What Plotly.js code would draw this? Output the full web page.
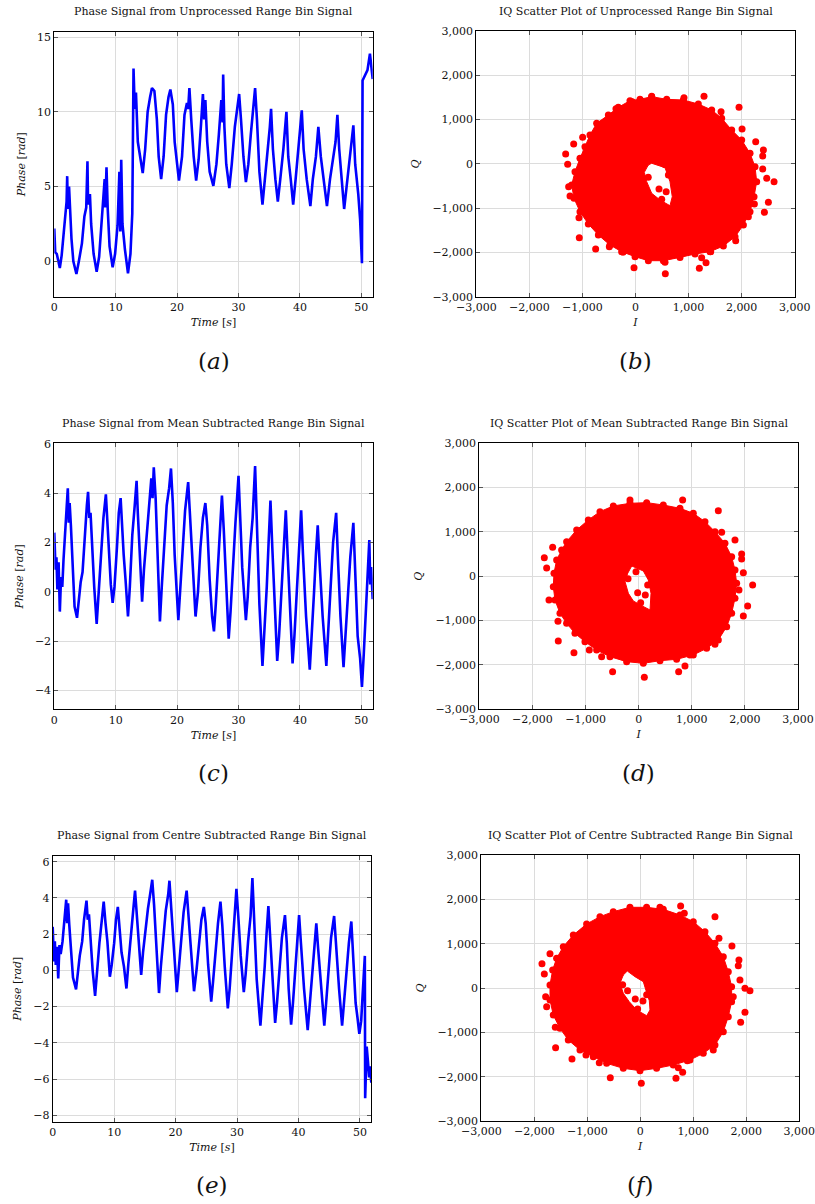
<!DOCTYPE html>
<html>
<head>
<meta charset="utf-8">
<script src="https://cdn.plot.ly/plotly-3.0.1.min.js"></script>
<style>
  html, body { margin: 0; padding: 0; background: #fff; }
  #chart { width: 815px; height: 1204px; }
</style>
</head>
<body>
<div id="chart"></div>
<script>
// ---------- phase signals (time in s, phase in rad) ----------
const aTime  = [0,0.15,0.4,0.6,0.9,1.2,1.5,1.8,2.0,2.1,2.2,2.4,2.6,2.8,3.1,3.6,4.0,4.5,4.9,5.2,5.4,5.5,5.8,6.0,6.4,6.9,7.3,7.7,8.0,8.2,8.3,8.5,8.7,9.0,9.5,9.9,10.3,10.5,10.6,10.75,10.9,11.1,11.5,12.0,12.4,12.7,12.9,13.1,13.3,13.6,14.0,14.4,14.8,15.2,15.6,15.9,16.3,16.7,17.0,17.4,17.8,18.2,18.6,18.9,19.3,19.6,20.3,20.8,21.2,21.6,21.8,22.0,22.3,22.7,23.1,23.5,23.9,24.2,24.4,24.6,24.9,25.3,25.9,26.4,26.8,27.2,27.4,27.5,27.7,28.0,28.5,28.9,29.4,29.8,30.1,30.4,30.8,31.2,31.6,32.0,32.4,32.7,33.0,33.4,33.9,34.3,34.8,35.1,35.3,35.6,36.0,36.4,36.8,37.3,37.8,38.1,38.5,38.9,39.3,39.7,40.0,40.3,40.6,41.1,41.7,42.1,42.6,43.0,43.4,43.9,44.4,44.9,45.5,45.8,46.1,46.4,46.8,47.2,47.6,48.1,48.5,48.7,49.0,49.5,49.8,50.1,50.2,50.6,51.0,51.4,51.7,51.85];
const aPhase = [2.2,0.6,0.5,0.1,-0.45,0.4,1.6,3.2,4.0,5.7,3.5,5.0,3.0,1.5,0.0,-0.85,0.0,1.2,3.0,3.6,6.7,3.8,4.5,2.5,0.5,-0.7,0.3,2.5,3.8,5.5,3.6,6.3,3.5,1.0,-0.4,0.5,2.4,4.5,6.0,2.0,6.8,2.5,0.8,-0.8,0.5,3.2,12.9,10.2,11.3,8.0,7.0,5.9,7.5,10.0,11.0,11.6,11.4,9.5,7.0,5.5,7.0,9.8,11.0,11.5,10.5,8.0,5.4,7.0,9.8,10.6,10.2,11.6,9.5,7.0,5.4,6.8,9.2,11.2,9.5,10.8,8.0,6.0,5.05,6.5,8.5,10.8,9.3,12.5,9.0,6.5,4.9,6.5,9.0,10.5,11.2,9.5,7.0,5.3,6.5,8.5,10.5,11.6,9.5,6.0,3.8,5.5,7.5,9.0,10.2,7.5,5.5,4.0,5.5,7.5,10.0,7.0,5.5,3.8,5.5,7.5,8.5,10.1,7.5,5.5,3.7,5.5,7.0,9.0,7.0,5.2,3.7,5.5,7.3,8.0,9.8,7.5,5.5,3.5,5.0,6.8,8.0,9.1,6.5,4.5,2.8,-0.13,12.1,12.5,12.8,13.9,12.8,12.2];

const cTime  = [0,0.2,0.35,0.5,0.7,0.9,1.1,1.3,1.5,1.8,2.0,2.2,2.35,2.5,2.7,3.0,3.3,3.7,4.0,4.3,4.6,5.0,5.3,5.5,5.7,5.9,6.2,6.5,6.9,7.2,7.6,8.0,8.4,8.6,8.9,9.2,9.5,9.8,10.2,10.5,10.8,11.0,11.3,11.6,12.0,12.3,12.7,13.1,13.4,13.6,13.9,14.3,14.6,15.0,15.4,15.8,16.0,16.2,16.5,16.8,17.2,17.5,17.9,18.3,18.7,19.0,19.3,19.6,20.2,20.5,20.9,21.3,21.8,22.1,22.5,23.0,23.4,23.8,24.2,24.6,24.9,25.3,25.7,26.0,26.3,26.7,27.0,27.3,27.6,28.0,28.4,28.7,29.1,29.5,30.0,30.2,30.6,31.2,31.5,31.9,32.3,32.7,33.0,33.4,33.9,34.2,34.6,34.9,35.2,35.5,35.9,36.3,36.6,37.0,37.4,37.7,38.0,38.4,38.8,39.1,39.5,39.8,40.2,40.5,41.0,41.6,41.9,42.3,42.6,42.9,43.2,43.7,44.3,44.6,45.0,45.4,45.9,46.2,46.6,47.1,47.4,47.8,48.2,48.7,49.0,49.4,49.8,50.1,50.4,50.8,51.1,51.3,51.45,51.6,51.85];
const cPhase = [2.4,0.9,1.4,0.1,1.2,-0.8,0.6,0.2,1.3,2.6,3.3,4.2,2.8,3.6,2.7,1.0,-0.6,-1.05,-0.3,0.4,0.8,2.6,3.5,4.05,3.0,3.2,1.5,0.2,-1.3,-0.2,1.2,3.0,3.95,3.0,1.8,0.3,-0.45,0.2,1.8,3.2,3.8,2.8,1.5,0.5,-1.0,0.2,2.3,3.5,4.5,3.2,1.5,-0.4,0.9,2.2,3.5,4.6,3.8,5.05,3.8,1.8,-1.2,0.2,2.0,3.5,4.2,5.0,3.6,1.5,-1.15,0.0,1.8,3.3,4.45,3.0,1.3,-1.0,0.0,1.8,3.0,3.6,2.7,0.5,-1.0,-1.6,-0.5,1.5,2.8,3.9,2.5,0.0,-1.9,-0.8,1.2,2.8,4.7,3.2,1.0,-1.15,-0.2,1.8,3.0,5.1,2.5,-0.5,-3.0,-1.8,0.2,2.0,3.7,1.8,-0.8,-2.8,-1.8,0.0,2.0,3.3,1.5,-1.0,-2.9,-1.8,0.2,1.5,3.3,1.5,-1.0,-3.15,-2.0,0.0,1.5,2.7,1.2,-1.0,-3.0,-1.8,0.2,2.0,3.2,1.3,-1.0,-3.05,-1.8,0.0,1.4,2.8,0.8,-1.8,-2.7,-3.85,-2.5,-0.5,1.0,2.1,0.3,1.0,-0.3];

const eTime  = [0,0.2,0.35,0.5,0.7,0.9,1.1,1.3,1.6,1.9,2.2,2.35,2.5,2.7,3.0,3.3,3.8,4.1,4.4,4.8,5.1,5.5,5.7,5.9,6.2,6.5,6.9,7.2,7.6,8.0,8.3,8.6,8.9,9.3,9.6,10.0,10.3,10.6,10.9,11.2,11.6,12.0,12.3,12.7,13.1,13.4,13.7,14.0,14.4,14.7,15.1,15.5,15.9,16.2,16.5,16.9,17.3,17.6,18.0,18.4,18.8,19.0,19.3,19.7,20.2,20.5,20.9,21.3,21.8,22.1,22.5,23.0,23.4,23.8,24.2,24.6,24.9,25.3,25.8,26.1,26.5,26.9,27.3,27.6,28.0,28.5,28.8,29.2,29.5,29.9,30.2,30.6,31.1,31.4,31.8,32.2,32.5,32.8,33.2,33.8,34.1,34.5,34.8,35.1,35.4,35.8,36.2,36.5,36.9,37.3,37.8,38.1,38.4,38.8,39.1,39.5,39.8,40.1,40.4,40.9,41.5,41.8,42.2,42.5,42.9,43.2,43.7,44.2,44.5,44.9,45.3,45.8,46.1,46.6,47.1,47.4,47.8,48.2,48.6,48.9,49.3,49.6,49.9,50.2,50.5,50.8,50.85,51.0,51.1,51.3,51.5,51.65,51.85];
const ePhase = [2.4,0.5,1.6,0.3,1.3,-0.45,1.4,0.9,1.6,2.6,3.9,2.6,3.7,2.5,1.2,-0.4,-1.05,0.0,0.8,1.6,2.8,3.85,2.8,3.1,1.2,0.0,-1.4,0.0,1.5,2.8,3.8,2.6,1.6,-0.35,0.3,1.5,2.8,3.5,2.4,1.0,0.2,-1.0,0.3,2.0,3.3,4.4,3.0,1.2,-0.25,1.0,2.4,3.4,4.3,5.0,3.6,1.5,-1.25,0.2,2.0,3.3,4.2,4.95,3.4,1.3,-1.2,0.0,1.8,3.2,4.4,3.0,1.2,-1.15,0.0,1.6,2.8,3.5,2.6,0.3,-1.73,-0.6,1.2,2.6,3.8,2.5,0.2,-2.1,-1.0,1.2,2.6,4.5,3.0,0.8,-1.2,-0.2,1.6,3.0,5.1,2.6,-0.5,-3.05,-1.8,0.2,2.0,3.55,1.8,-0.8,-2.9,-1.8,0.0,1.8,3.05,1.5,-1.0,-3.0,-1.8,0.3,1.8,3.05,1.5,-1.0,-3.3,-2.0,0.0,1.4,2.6,1.2,-1.0,-3.05,-1.8,0.2,1.8,3.0,1.3,-1.0,-3.05,-1.8,0.0,1.5,2.7,0.8,-1.8,-2.6,-3.5,-2.8,-1.0,0.8,-7.05,-5.5,-4.2,-5.0,-5.9,-5.3,-6.2];

// ---------- IQ scatter clouds: outer rim, inner gap, loose samples ----------
const bOuterI = [-732,-512,-324,-104,85,305,588,902,1184,1436,1624,1813,2001,2158,2252,2284,2234,2158,2033,1876,1656,1404,1122,839,525,242,-9,-261,-481,-700,-889,-1046,-1159,-1203,-1140,-1046,-952,-858];
const bOuterQ = [915,1103,1276,1427,1457,1517,1457,1442,1351,1216,1028,764,538,237,-64,-403,-741,-1080,-1381,-1645,-1856,-1983,-2036,-2112,-2187,-2187,-2096,-1983,-1833,-1607,-1359,-1080,-779,-478,-177,124,388,651];
const bHoleI  = [305,556,650,693,650,462,305,211,166,241];
const bHoleQ  = [13,-86,-402,-741,-945,-816,-665,-402,-191,-26];
const bDotsI  = [-1316,-1278,-1165,-996,-1260,-1234,-1065,-1059,-751,-493,-235,-28,562,556,1203,1329,1247,1417,1888,2429,2504,2611,2473,2397,2397,2410,2265,2008,1951,1612,1291,914,305,-60,-368,-669,2240,2127,443,578,494,620,240,560];
const bDotsQ  = [222,-11,448,599,-516,-726,-1216,-1667,-1923,-1871,-1998,-2345,-2480,-2224,-2360,-2232,-2119,-1983,-1735,-1095,-869,-403,-327,-117,177,313,501,787,1276,1178,1525,1494,1525,1404,1246,855,-907,-1193,-568,-628,-800,-250,-300,-20];

const dOuterI = [-1356,-1167,-948,-728,-477,-163,151,464,778,1029,1249,1437,1625,1751,1814,1845,1814,1751,1657,1500,1280,1029,715,402,88,-226,-540,-791,-1011,-1199,-1356,-1481,-1575,-1607,-1594,-1544,-1450];
const dOuterQ = [779,1043,1269,1457,1585,1645,1660,1607,1532,1419,1231,1005,742,440,139,-162,-500,-839,-1140,-1442,-1630,-1780,-1878,-1909,-1968,-1931,-1818,-1667,-1479,-1291,-1065,-839,-538,-237,64,365,591];
const dHoleI  = [-130,88,182,233,214,58,-100,-194,-256,-206];
const dHoleQ  = [229,117,-87,-387,-764,-667,-561,-387,-125,65];
const dDotsI  = [-1776,-1732,-1619,-1688,-1519,-1513,-1218,-929,-697,-490,-163,107,753,872,828,1500,1563,1814,1939,1939,1971,2146,2052,1971,1437,966,1889,-19,125,38,-50,170,-200];
const dDotsQ  = [418,185,651,-538,-1020,-1464,-1728,-1667,-1818,-2157,1720,-2285,-2157,-2029,1720,1479,990,817,501,388,79,-199,-674,-899,-1539,-1780,-312,-373,-425,-598,102,-200,-60];

const fOuterI = [-1453,-1264,-1013,-761,-510,-195,119,434,748,1000,1220,1409,1566,1660,1723,1723,1660,1566,1409,1188,937,622,308,-6,-321,-635,-887,-1138,-1359,-1516,-1642,-1704,-1704,-1654,-1579];
const fOuterQ = [932,1195,1444,1609,1722,1820,1820,1774,1647,1496,1271,1007,707,368,30,-308,-647,-985,-1286,-1474,-1624,-1737,-1812,-1865,-1812,-1699,-1549,-1399,-1173,-910,-609,-271,68,406,669];
const fHoleI  = [-245,-100,57,108,170,183,121,-68,-208,-321,-383,-321];
const fHoleQ  = [383,255,142,-61,-286,-496,-625,-496,-309,-120,106,293];
const fDotsI  = [-1855,-1811,-1704,-1786,-1767,-1604,-1598,-1289,-1025,-774,-566,19,673,799,717,887,761,830,1409,1484,1729,1861,1849,1880,2069,1975,1893,1377,371,1975,1754,-95,50,-50,-333,120,-240];
const fDotsQ  = [549,316,774,-196,-421,-887,-1346,-1602,-1511,-1684,-2023,-2151,-2038,-1902,-1797,-1639,1850,1684,1609,1120,947,632,504,180,-60,-549,-775,-1399,1820,-8,-196,-248,-293,-474,75,-150,-60];

const phaseTitles = [
  'Phase Signal from Unprocessed Range Bin Signal',
  'Phase Signal from Mean Subtracted Range Bin Signal',
  'Phase Signal from Centre Subtracted Range Bin Signal'
];
const iqTitles = [
  'IQ Scatter Plot of Unprocessed Range Bin Signal',
  'IQ Scatter Plot of Mean Subtracted Range Bin Signal',
  'IQ Scatter Plot of Centre Subtracted Range Bin Signal'
];
const panelLetters = ['a','b','c','d','e','f'];

// ---------- page geometry (px) ----------
const W = 815, H = 1204;
const FONT = 'DejaVu Serif, Liberation Serif, serif';
const FS = 11;
const BLUE = '#0000ff', RED = '#ff0000';

// plot boxes [left, right, top, bottom] in px
const boxes = [
  [54.3, 372.7, 31.7, 296.7],   // a
  [476.3, 794.7, 31.0, 296.7],  // b
  [54.3, 372.7, 443.3, 709.3],  // c
  [479.3, 798.0, 443.3, 709.0], // d
  [52.7, 371.3, 855.7, 1121.7], // e
  [481.3, 799.3, 855.0, 1121.0] // f
];
const titleY = [12, 12, 423.5, 423.5, 835.5, 835.5];
const captionY = [361, 361, 773, 773, 1185, 1185];

function xDom(b) { return [b[0] / W, b[1] / W]; }
function yDom(b) { return [1 - b[3] / H, 1 - b[2] / H]; }

const txt = { family: FONT, size: FS, color: '#111' };

const baseAxis = {
  showline: true, linecolor: '#000', linewidth: 1, mirror: 'ticks',
  ticks: 'inside', ticklen: 4, tickwidth: 1, tickcolor: '#555',
  showgrid: true, gridcolor: '#dcdcdc', gridwidth: 1,
  zeroline: false, automargin: false, fixedrange: true,
  ticklabeloverflow: 'allow',
  tickfont: txt
};

function axis(extra) { return Object.assign({}, baseAxis, extra); }

// outer rim followed by the reversed inner gap, so the gap stays open
function ringPath(oI, oQ, hI, hQ) {
  const ri = hI.slice().reverse(), rq = hQ.slice().reverse();
  return {
    x: oI.concat([oI[0]], ri, [ri[0]], [oI[0]]),
    y: oQ.concat([oQ[0]], rq, [rq[0]], [oQ[0]])
  };
}

const traces = [];
const layout = {
  width: W, height: H,
  margin: { l: 0, r: 0, t: 0, b: 0 },
  paper_bgcolor: '#fff', plot_bgcolor: '#fff',
  showlegend: false,
  separators: '.,',
  font: txt,
  annotations: []
};

const phaseSets = [[aTime, aPhase], [cTime, cPhase], [eTime, ePhase]];
const phaseRanges = [[-2.37, 15.37], [-4.76, 6.02], [-8.35, 6.33]];
const phaseDticks = [5, 2, 2];
const iqSets = [
  [bOuterI, bOuterQ, bHoleI, bHoleQ, bDotsI, bDotsQ],
  [dOuterI, dOuterQ, dHoleI, dHoleQ, dDotsI, dDotsQ],
  [fOuterI, fOuterQ, fHoleI, fHoleQ, fDotsI, fDotsQ]
];

for (let r = 0; r < 3; r++) {
  // left column: phase over time
  const li = 2 * r + 1, ri = 2 * r + 2;
  const lb = boxes[2 * r], rb = boxes[2 * r + 1];
  traces.push({
    type: 'scatter', mode: 'lines',
    x: phaseSets[r][0], y: phaseSets[r][1],
    xaxis: 'x' + li, yaxis: 'y' + li,
    line: { color: BLUE, width: 2.6 },
    hoverinfo: 'skip'
  });
  layout['xaxis' + li] = axis({
    domain: xDom(lb), anchor: 'y' + li, range: [0, 51.85],
    tick0: 0, dtick: 10,
    title: { text: '<i>Time</i> [<i>s</i>]', font: txt, standoff: 5 }
  });
  layout['yaxis' + li] = axis({
    domain: yDom(lb), anchor: 'x' + li, range: phaseRanges[r],
    tick0: 0, dtick: phaseDticks[r],
    title: { text: '<i>Phase</i> [<i>rad</i>]', font: txt, standoff: 9 }
  });

  // right column: IQ cloud
  const s = iqSets[r];
  const ring = ringPath(s[0], s[1], s[2], s[3]);
  traces.push({
    type: 'scatter', mode: 'lines',
    x: ring.x, y: ring.y,
    xaxis: 'x' + ri, yaxis: 'y' + ri,
    fill: 'toself', fillcolor: RED,
    line: { color: RED, width: 1, simplify: false },
    hoverinfo: 'skip'
  });
  traces.push({
    type: 'scatter', mode: 'markers',
    x: s[0].concat(s[4]), y: s[1].concat(s[5]),
    xaxis: 'x' + ri, yaxis: 'y' + ri,
    marker: { color: RED, size: 7, line: { width: 0 } },
    hoverinfo: 'skip'
  });
  layout['xaxis' + ri] = axis({
    domain: xDom(rb), anchor: 'y' + ri, range: [-3000, 3000],
    tick0: -3000, dtick: 1000, separatethousands: true,
    title: { text: '<i>I</i>', font: txt, standoff: 5 }
  });
  layout['yaxis' + ri] = axis({
    domain: yDom(rb), anchor: 'x' + ri, range: [-3000, 3000],
    tick0: -3000, dtick: 1000, separatethousands: true,
    title: { text: '<i>Q</i>', font: txt, standoff: 10 }
  });

  // panel titles and captions
  [[lb, phaseTitles[r], 2 * r], [rb, iqTitles[r], 2 * r + 1]].forEach(function (p) {
    const b = p[0], k = p[2];
    layout.annotations.push({
      xref: 'paper', yref: 'paper',
      x: (b[0] + b[1]) / 2 / W, y: 1 - titleY[k] / H,
      xanchor: 'center', yanchor: 'middle', showarrow: false,
      text: p[1], font: txt
    });
    layout.annotations.push({
      xref: 'paper', yref: 'paper',
      x: (b[0] + b[1]) / 2 / W, y: 1 - captionY[k] / H,
      xanchor: 'center', yanchor: 'middle', showarrow: false,
      text: '(<i>' + panelLetters[k] + '</i>)', font: { family: FONT, size: 23, color: '#111' }
    });
  });
}

Plotly.newPlot('chart', traces, layout, { staticPlot: true, displayModeBar: false });
</script>
</body>
</html>
